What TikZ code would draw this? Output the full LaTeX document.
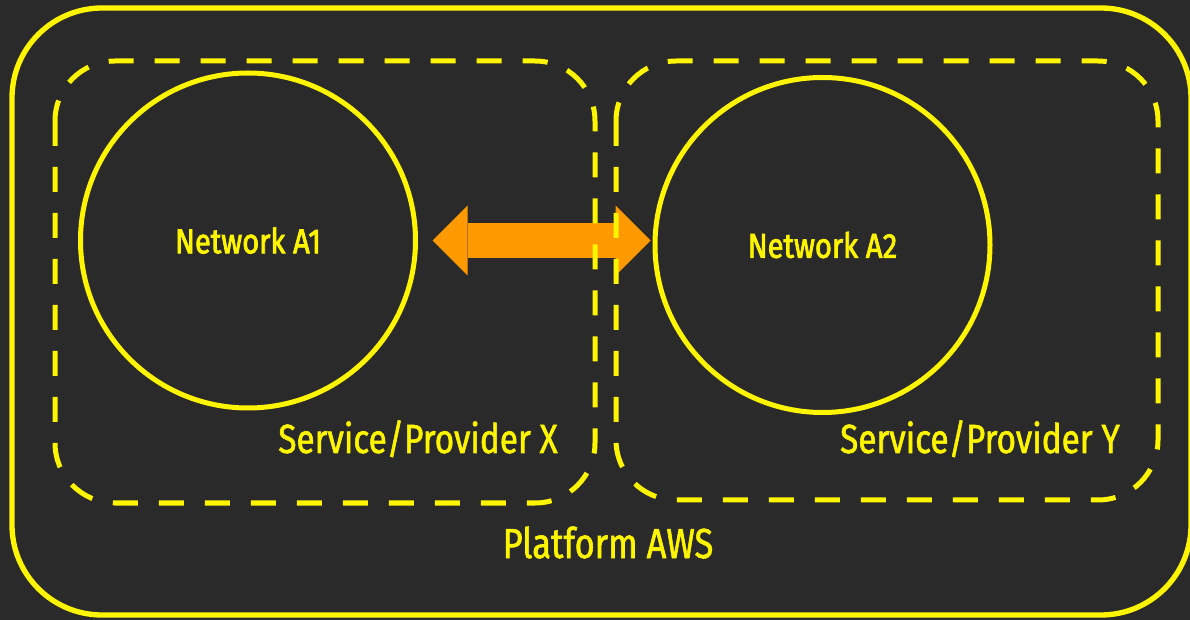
\documentclass[tikz,border=0pt]{standalone}
\usepackage{fontspec}
\setmainfont{Fira Sans}[FakeStretch=0.82]
\newfontfamily\labfont{Fira Sans}[FakeStretch=0.82,FakeBold=1.4]
\newfontfamily\netfont{Fira Sans}[FakeStretch=0.84,FakeBold=2.2]
\usetikzlibrary{arrows.meta}
\definecolor{bgc}{RGB}{42,42,42}
\definecolor{ylw}{RGB}{255,245,0}
\definecolor{org}{RGB}{255,153,0}
\begin{document}
\begin{tikzpicture}[x=0.75pt,y=-0.75pt,
  solidbox/.style={draw=ylw,line width=4pt,rounded corners=67.5pt},
  dashbox/.style={draw=ylw,line width=3.75pt,rounded corners=45pt,dash pattern=on 18.75pt off 15.75pt},
  netcircle/.style={circle,draw=ylw,line width=3.75pt,minimum size=251.25pt,inner sep=0pt,text=ylw,font=\netfont\fontsize{26pt}{30pt}\selectfont},
  biglabel/.style={text=ylw,anchor=base,inner sep=0pt,font=\labfont\fontsize{30.5pt}{34pt}\selectfont},
  netarrow/.style={draw=org,line width=26.25pt,
    {Triangle[length=26.25pt,width=52.5pt,line width=0pt]}-{Triangle[length=26.25pt,width=52.5pt,line width=0pt]}}
]
\useasboundingbox (0,0) rectangle (1190,620);
\fill[bgc] (0,0) rectangle (1190,620);
% outer platform
\draw[solidbox] (12,8) rectangle (1191,615);
% networks
\node[netcircle] (a1) at (248,240.5) {Network A1};
\node[netcircle] (a2) at (822.5,245) {Network A2};
% connector
\draw[netarrow,shorten <=10.9pt,shorten >=1.5pt] (a1.east) -- (a1.east -| a2.west);
% service boxes
\draw[dashbox] (55,61) rectangle (595,503);
\draw[dashbox] (616,61) rectangle (1158,500);
% labels
\node[biglabel] (sx) at (418,453) {Service/Provider X};
\node[biglabel] (sy) at (980,453) {Service/Provider Y};
\node[biglabel,font=\labfont\fontsize{31.5pt}{35pt}\selectfont] (aws) at (608,558) {Platform AWS};
\end{tikzpicture}
\end{document}
